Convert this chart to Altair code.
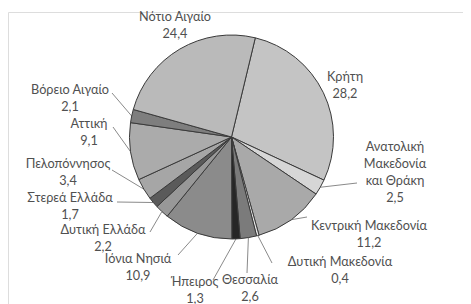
import math
import altair as alt
import pandas as pd

# ---- data ----
regions = ["Κρήτη", "Ανατολική Μακεδονία και Θράκη", "Κεντρική Μακεδονία",
           "Δυτική Μακεδονία", "Θεσσαλία", "Ήπειρος", "Ιόνια Νησιά",
           "Δυτική Ελλάδα", "Στερεά Ελλάδα", "Πελοπόννησος", "Αττική",
           "Βόρειο Αιγαίο", "Νότιο Αιγαίο"]
values = [28.2, 2.5, 11.2, 0.4, 2.6, 1.3, 10.9, 2.2, 1.7, 3.4, 9.1, 2.1, 24.4]
label_names = ["Κρήτη", "Ανατολική\nΜακεδονία\nκαι Θράκη", "Κεντρική Μακεδονία",
               "Δυτική Μακεδονία", "Θεσσαλία", "Ήπειρος", "Ιόνια Νησιά",
               "Δυτική Ελλάδα", "Στερεά Ελλάδα", "Πελοπόννησος", "Αττική",
               "Βόρειο Αιγαίο", "Νότιο Αιγαίο"]
colors = ["#c4c4c4", "#d6d6d6", "#a9a9a9", "#e6e6e6", "#7b7b7b", "#262626",
          "#8b8b8b", "#989898", "#5a5a5a", "#a6a6a6", "#ababab", "#7e7e7e",
          "#bababa"]

# ---- layout (pixels relative to pie centre, y up) ----
PAD_TOP = 4
W, H = 455, 296 - PAD_TOP
CX, CY = 223.5, 129 - PAD_TOP   # pie centre inside the plot area (from top-left)
R = 102
START_DEG = 13.5
LH = 17
label_pos = [(113.5, 52), (163.5, -35), (137.5, -97), (108.5, -133),
             (18.5, -151), (-36.5, -153), (-93.5, -130), (-128.5, -101),
             (-161.5, -69), (-163.5, -35), (-142.5, 5), (-161.5, 39),
             (-56.5, 112)]
leader_end = [None, (125.5, -46), (75.5, -80), (40.5, -126), (15.5, -136),
              (-18.5, -143), (-53.5, -118), (-81.5, -95), (-114.5, -65),
              (-119.5, -33), (-118.5, 10), (-119.5, 44), None]

total = sum(values)
rows, lab_rows, lead_rows = [], [], []
cum = 0.0
for i, (reg, v) in enumerate(zip(regions, values)):
    mid = START_DEG + 360 * (cum + v / 2) / total
    cum += v
    rows.append({"region": reg, "value": v, "order": i})
    txt = label_names[i] + "\n" + f"{v:.1f}".replace(".", ",")
    n = txt.count("\n") + 1
    lab_rows.append({"x": label_pos[i][0],
                     "y": label_pos[i][1] + (n - 1) * LH / 2, "text": txt})
    if leader_end[i] is not None:
        a = math.radians(mid)
        lead_rows.append({"x": R * math.sin(a), "y": R * math.cos(a),
                          "x2": leader_end[i][0], "y2": leader_end[i][1]})

df = pd.DataFrame(rows)
labels = pd.DataFrame(lab_rows)
leaders = pd.DataFrame(lead_rows)

xs = alt.Scale(domain=[-CX, W - CX], range=[0, W])
ys = alt.Scale(domain=[-(H - CY), CY], range=[H, 0])

start = math.radians(START_DEG)
pie = alt.Chart(df).mark_arc(
    outerRadius=R, x=CX, y=CY, stroke="#3a3a3a", strokeWidth=1
).encode(
    theta=alt.Theta("value:Q", stack=True,
                    scale=alt.Scale(range=[start, start + 2 * math.pi])),
    order=alt.Order("order:Q"),
    color=alt.Color("region:N", scale=alt.Scale(domain=regions, range=colors),
                    legend=None),
)

lines = alt.Chart(leaders).mark_rule(color="#8a8a8a", strokeWidth=1).encode(
    x=alt.X("x:Q", scale=xs, axis=None),
    y=alt.Y("y:Q", scale=ys, axis=None),
    x2="x2:Q", y2="y2:Q",
)

text = alt.Chart(labels).mark_text(
    font="Lato", fontSize=12.7, color="#505050", lineBreak="\n",
    lineHeight=LH, align="center", baseline="middle"
).encode(
    x=alt.X("x:Q", scale=xs, axis=None),
    y=alt.Y("y:Q", scale=ys, axis=None),
    text="text:N",
)

chart = alt.layer(lines, pie, text).properties(
    width=W, height=H,
    padding={"top": PAD_TOP, "left": 0, "right": 0, "bottom": 0},
    autosize=alt.AutoSizeParams(type="none"),
).configure_view(stroke=None).configure(background="white")

chart.save("out.html", embed_options={"renderer": "svg", "actions": False})
